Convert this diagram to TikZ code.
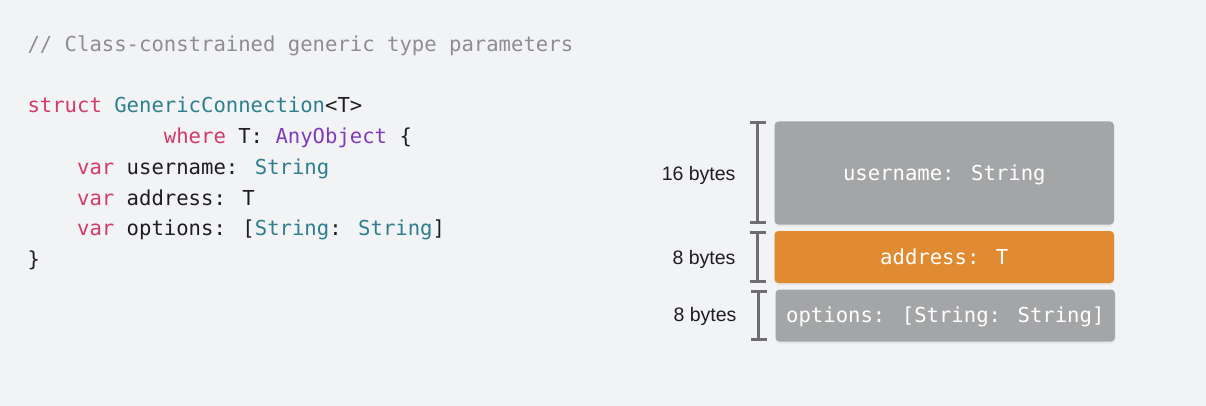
\documentclass[tikz,border=0pt]{standalone}
\usepackage{fontspec}
\setmainfont{Liberation Sans}
\newfontfamily\codefont{DejaVu Sans Mono}
\usetikzlibrary{shadows}
\definecolor{bgc}{HTML}{F2F3F5}
\definecolor{kw}{HTML}{D23B66}
\definecolor{ty}{HTML}{2E7F8D}
\definecolor{pu}{HTML}{7F3BBA}
\definecolor{cm}{HTML}{8E8E92}
\definecolor{pl}{HTML}{1E1E20}
\definecolor{boxgrey}{HTML}{A4A5A7}
\definecolor{boxorange}{HTML}{E08A31}
\definecolor{brk}{HTML}{6E6E71}
\tikzset{
  codeline/.style={anchor=base west,inner sep=0pt,text=pl,font=\codefont\fontsize{20.6}{30.7}\selectfont},
  memfield/.style={rounded corners=4pt,inner sep=0pt,draw=none,
    drop shadow={opacity=0.10,shadow xshift=0pt,shadow yshift=-2pt}},
  fieldtext/.style={anchor=base,inner sep=0pt,text=white,font=\codefont\fontsize{20.6}{24}\selectfont},
  sizelabel/.style={anchor=base east,inner sep=0pt,text=pl,font=\fontsize{19.5}{23}\selectfont},
  bracket/.style={draw=brk,line width=3.4pt},
}
\begin{document}
\begin{tikzpicture}[x=1pt,y=-1pt]
\fill[bgc] (0,0) rectangle (1206,406);
\useasboundingbox (0,0) rectangle (1206,406);
% code
\node[codeline,text=cm] (c0) at (27.3,51.6) {// Class-constrained generic type parameters};
\node[codeline] (c1) at (27.3,113) {\textcolor{kw}{struct} \textcolor{ty}{GenericConnection}<T>};
\node[codeline] (c2) at (163.7,143.7) {\textcolor{kw}{where} T: \textcolor{pu}{AnyObject} \{};
\node[codeline] (c3) at (76.9,174.4) {\textcolor{kw}{var} username: \textcolor{ty}{String}};
\node[codeline] (c4) at (76.9,205.1) {\textcolor{kw}{var} address: T};
\node[codeline] (c5) at (76.9,235.8) {\textcolor{kw}{var} options: [\textcolor{ty}{String}: \textcolor{ty}{String}]};
\node[codeline] (c6) at (27.3,266.5) {\}};
% memory boxes
\path[memfield,fill=boxgrey] (774.5,121.5) rectangle (1114,224.5);
\path[memfield,fill=boxorange,drop shadow={opacity=0.18,shadow xshift=0pt,shadow yshift=0pt,color=boxorange}] (774.5,231) rectangle (1114,283);
\path[memfield,fill=boxgrey] (775.5,289.5) rectangle (1115,341.5);
\node[fieldtext] (f1) at (944.3,180.6) {username: String};
\node[fieldtext] (f2) at (944.3,264.2) {address: T};
\node[fieldtext] (f3) at (945.3,322.3) {options: [String: String]};
% brackets
\draw[bracket] (749.5,122.8) -- (766,122.8) (757.5,122.8) -- (757.5,222.6) (749.5,222.6) -- (766,222.6);
\draw[bracket] (749.5,232.6) -- (766,232.6) (757.5,232.6) -- (757.5,281.6) (749.5,281.6) -- (766,281.6);
\draw[bracket] (750.5,291.6) -- (767,291.6) (758.5,291.6) -- (758.5,339.4) (750.5,339.4) -- (767,339.4);
% labels
\node[sizelabel] (l1) at (735.7,180.3) {16 bytes};
\node[sizelabel] (l2) at (735.7,264.3) {8 bytes};
\node[sizelabel] (l3) at (736.7,321.8) {8 bytes};
\end{tikzpicture}
\end{document}
